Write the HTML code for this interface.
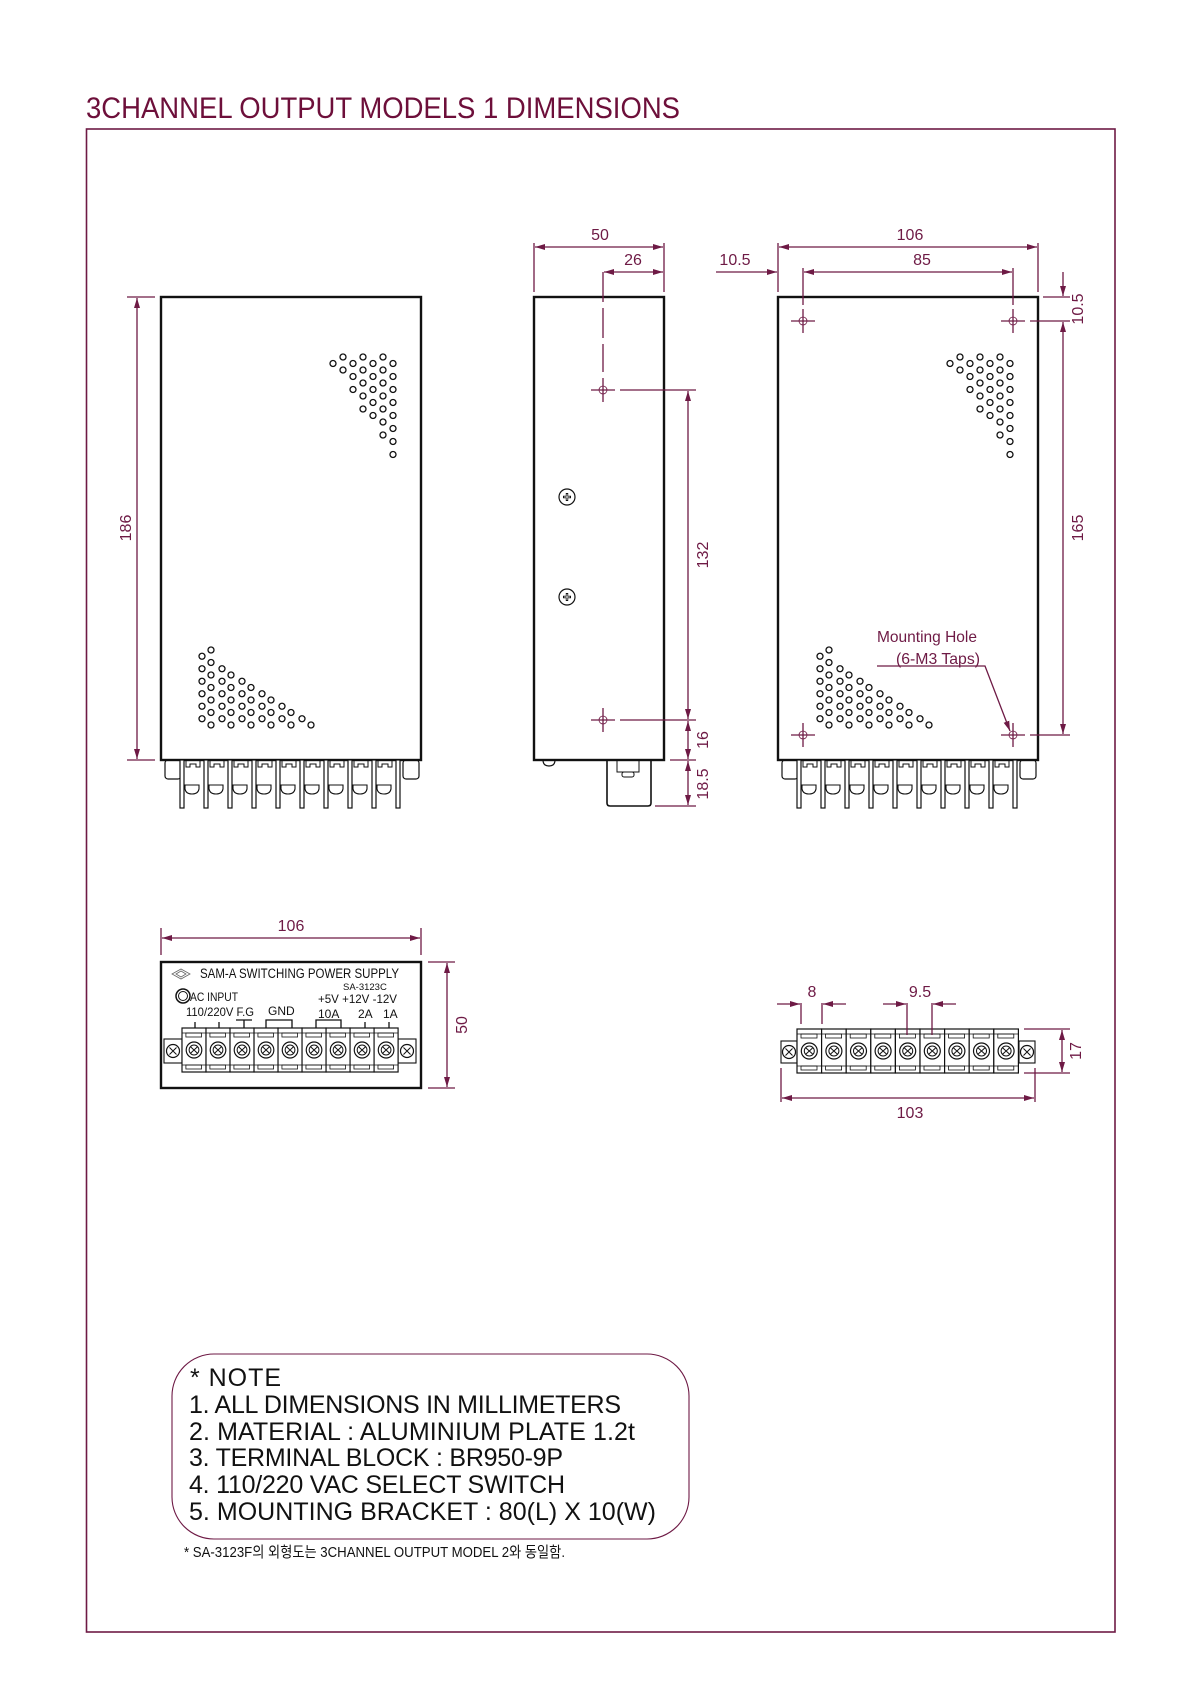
<!DOCTYPE html>
<html><head><meta charset="utf-8"><style>
html,body{margin:0;padding:0;background:#fff;}
svg{display:block;}
text{font-family:"Liberation Sans","Noto Sans CJK KR",sans-serif;}
.d{fill:#6e1a45;font-size:16px;}
.dl{stroke:#6e1a45;stroke-width:1.3;fill:none;}
.k{stroke:#111;fill:none;}
</style></head><body>
<svg id="s" width="1200" height="1698" viewBox="0 0 1200 1698" xmlns="http://www.w3.org/2000/svg">
<defs>
<marker id="ar" viewBox="0 0 10 6" refX="10" refY="3" markerWidth="10" markerHeight="6" orient="auto-start-reverse" markerUnits="userSpaceOnUse">
<path d="M0,0 L10,3 L0,6 z" fill="#6e1a45"/></marker>
<g id="xh"><line x1="-12" y1="0" x2="12" y2="0" stroke="#6e1a45" stroke-width="1.3"/><line x1="0" y1="-12" x2="0" y2="12" stroke="#6e1a45" stroke-width="1.3"/><circle r="4" fill="none" stroke="#6e1a45" stroke-width="0.8"/></g>
<g id="stub">
<rect x="0" y="0" width="4" height="48" fill="#fff" stroke="#111" stroke-width="1.2"/>
<path d="M6,0 V7 H10 V4 H16 V7 H20 V0" fill="none" stroke="#111" stroke-width="1"/>
<path d="M5,25 H19 V29 Q18,34 12,34 Q6,34 5,29 Z" fill="none" stroke="#111" stroke-width="1.1"/>
</g>
<g id="cell">
<rect x="0" y="0" width="24.6" height="44" fill="#fff" stroke="#111" stroke-width="1.2"/>
<line x1="0" y1="5" x2="24.6" y2="5" stroke="#111" stroke-width="0.8"/>
<rect x="4" y="5" width="16" height="4" fill="none" stroke="#111" stroke-width="0.8"/>
<line x1="0" y1="37" x2="24.6" y2="37" stroke="#111" stroke-width="0.8"/>
<rect x="4" y="37" width="16" height="4" fill="none" stroke="#111" stroke-width="0.8"/>
<circle cx="12.3" cy="22" r="8" fill="none" stroke="#111" stroke-width="1.2"/>
<circle cx="12.3" cy="22" r="5" fill="none" stroke="#111" stroke-width="1"/>
<path d="M9,19 L15.6,25 M15.6,19 L9,25" stroke="#111" stroke-width="1"/>
</g>
<g id="screw"><circle r="6.5" fill="none" stroke="#111" stroke-width="1.2"/><path d="M-3.5,-3.5 L3.5,3.5 M3.5,-3.5 L-3.5,3.5" stroke="#111" stroke-width="1"/></g>
<g id="pscrew"><circle r="8" fill="none" stroke="#111" stroke-width="1.2"/><path d="M-4,0 H4 M0,-4 V4" stroke="#111" stroke-width="2.4"/><path d="M-3,0 H3 M0,-3 V3" stroke="#fff" stroke-width="0.8"/></g>
</defs>

<text x="86" y="118" font-size="30" fill="#6d0f3a" textLength="594" lengthAdjust="spacingAndGlyphs">3CHANNEL  OUTPUT  MODELS  1  DIMENSIONS</text>
<rect x="86.5" y="129" width="1028.5" height="1503" fill="none" stroke="#6e1a45" stroke-width="1.6"/>

<g id="dots" fill="none" stroke="#111" stroke-width="1.3"></g>

<!-- FRONT VIEW -->
<rect x="161" y="297" width="260" height="463" fill="none" stroke="#111" stroke-width="2.4"/>
<rect x="165" y="760" width="16" height="19" rx="3" class="k" stroke-width="1.2"/>
<rect x="403" y="760" width="16" height="19" rx="3" class="k" stroke-width="1.2"/>
<g>
<use href="#stub" x="180" y="760"/><use href="#stub" x="204" y="760"/><use href="#stub" x="228" y="760"/><use href="#stub" x="252" y="760"/><use href="#stub" x="276" y="760"/><use href="#stub" x="300" y="760"/><use href="#stub" x="324" y="760"/><use href="#stub" x="348" y="760"/><use href="#stub" x="372" y="760"/>
<rect x="396" y="760" width="4" height="48" fill="#fff" stroke="#111" stroke-width="1.2"/>
</g>
<line x1="127" y1="297" x2="155" y2="297" class="dl"/>
<line x1="127" y1="760" x2="155" y2="760" class="dl"/>
<line x1="137" y1="298" x2="137" y2="759" class="dl" marker-start="url(#ar)" marker-end="url(#ar)"/>
<text class="d" transform="translate(131,528) rotate(-90)" text-anchor="middle">186</text>

<!-- SIDE VIEW -->
<rect x="534" y="297" width="130" height="463" fill="none" stroke="#111" stroke-width="2.4"/>
<path d="M543,760 Q543,766 549,766 Q555,766 555,760" class="k" stroke-width="1.2"/>
<path d="M607,760 V803 Q607,806 610,806 H648 Q651,806 651,803 V760" class="k" stroke-width="1.6"/>
<rect x="617" y="760" width="22" height="12" class="k" stroke-width="1"/>
<rect x="622" y="772" width="12" height="5" rx="2" class="k" stroke-width="1"/>
<use href="#pscrew" x="567" y="497"/>
<use href="#pscrew" x="567" y="597"/>
<use href="#xh" x="603" y="390"/>
<use href="#xh" x="603" y="720"/>
<line x1="603" y1="272" x2="603" y2="372" class="dl" stroke-dasharray="30,6"/>
<line x1="534" y1="243" x2="534" y2="292" class="dl"/>
<line x1="664" y1="243" x2="664" y2="292" class="dl"/>
<line x1="535" y1="247" x2="663" y2="247" class="dl" marker-start="url(#ar)" marker-end="url(#ar)"/>
<text class="d" x="600" y="240" text-anchor="middle">50</text>
<line x1="604" y1="272" x2="663" y2="272" class="dl" marker-start="url(#ar)" marker-end="url(#ar)"/>
<text class="d" x="633" y="265" text-anchor="middle">26</text>
<line x1="620" y1="390" x2="696" y2="390" class="dl"/>
<line x1="620" y1="720" x2="696" y2="720" class="dl"/>
<line x1="670" y1="760" x2="696" y2="760" class="dl"/>
<line x1="655" y1="806" x2="696" y2="806" class="dl"/>
<line x1="688" y1="391" x2="688" y2="719" class="dl" marker-start="url(#ar)" marker-end="url(#ar)"/>
<line x1="688" y1="721" x2="688" y2="759" class="dl" marker-start="url(#ar)" marker-end="url(#ar)"/>
<line x1="688" y1="761" x2="688" y2="805" class="dl" marker-start="url(#ar)" marker-end="url(#ar)"/>
<text class="d" transform="translate(708,555) rotate(-90)" text-anchor="middle">132</text>
<text class="d" transform="translate(708,740) rotate(-90)" text-anchor="middle">16</text>
<text class="d" transform="translate(708,784) rotate(-90)" text-anchor="middle">18.5</text>

<!-- RIGHT VIEW -->
<rect x="778" y="297" width="260" height="463" fill="none" stroke="#111" stroke-width="2.4"/>
<rect x="782" y="760" width="16" height="19" rx="3" class="k" stroke-width="1.2"/>
<rect x="1020" y="760" width="16" height="19" rx="3" class="k" stroke-width="1.2"/>
<g>
<use href="#stub" x="797" y="760"/><use href="#stub" x="821" y="760"/><use href="#stub" x="845" y="760"/><use href="#stub" x="869" y="760"/><use href="#stub" x="893" y="760"/><use href="#stub" x="917" y="760"/><use href="#stub" x="941" y="760"/><use href="#stub" x="965" y="760"/><use href="#stub" x="989" y="760"/>
<rect x="1013" y="760" width="4" height="48" fill="#fff" stroke="#111" stroke-width="1.2"/>
</g>
<use href="#xh" x="803" y="321"/>
<use href="#xh" x="1013" y="321"/>
<use href="#xh" x="803" y="735"/>
<use href="#xh" x="1013" y="735"/>
<line x1="778" y1="243" x2="778" y2="292" class="dl"/>
<line x1="1038" y1="243" x2="1038" y2="292" class="dl"/>
<line x1="803" y1="268" x2="803" y2="305" class="dl"/>
<line x1="1013" y1="268" x2="1013" y2="305" class="dl"/>
<line x1="779" y1="247" x2="1037" y2="247" class="dl" marker-start="url(#ar)" marker-end="url(#ar)"/>
<text class="d" x="910" y="240" text-anchor="middle">106</text>
<line x1="804" y1="272" x2="1012" y2="272" class="dl" marker-start="url(#ar)" marker-end="url(#ar)"/>
<text class="d" x="922" y="265" text-anchor="middle">85</text>
<line x1="716" y1="272" x2="777" y2="272" class="dl" marker-end="url(#ar)"/>
<text class="d" x="735" y="265" text-anchor="middle">10.5</text>
<line x1="1043" y1="297" x2="1070" y2="297" class="dl"/>
<line x1="1030" y1="321" x2="1070" y2="321" class="dl"/>
<line x1="1030" y1="735" x2="1070" y2="735" class="dl"/>
<line x1="1063" y1="272" x2="1063" y2="296" class="dl" marker-end="url(#ar)"/>
<line x1="1063" y1="322" x2="1063" y2="734" class="dl" marker-start="url(#ar)" marker-end="url(#ar)"/>
<text class="d" transform="translate(1083,309) rotate(-90)" text-anchor="middle">10.5</text>
<text class="d" transform="translate(1083,528) rotate(-90)" text-anchor="middle">165</text>
<text class="d" x="877" y="642" textLength="100" lengthAdjust="spacingAndGlyphs">Mounting Hole</text>
<text class="d" x="896" y="664" textLength="84" lengthAdjust="spacingAndGlyphs">(6-M3 Taps)</text>
<polyline points="877,666 985,666 1010,731" class="dl" marker-end="url(#ar)"/>

<!-- PANEL VIEW -->
<rect x="161" y="962" width="260" height="126" fill="none" stroke="#111" stroke-width="2.4"/>
<line x1="161" y1="928" x2="161" y2="955" class="dl"/>
<line x1="421" y1="928" x2="421" y2="955" class="dl"/>
<line x1="162" y1="938" x2="420" y2="938" class="dl" marker-start="url(#ar)" marker-end="url(#ar)"/>
<text class="d" x="291" y="931" text-anchor="middle">106</text>
<line x1="428" y1="962" x2="455" y2="962" class="dl"/>
<line x1="428" y1="1088" x2="455" y2="1088" class="dl"/>
<line x1="447" y1="963" x2="447" y2="1087" class="dl" marker-start="url(#ar)" marker-end="url(#ar)"/>
<text class="d" transform="translate(467,1025) rotate(-90)" text-anchor="middle">50</text>
<path d="M172,974 L181,969 L190,974 L181,979 Z M176,974 L181,971 L186,974 L181,977 Z" fill="none" stroke="#666" stroke-width="0.8"/>
<text x="200" y="978" font-size="13.5" fill="#111" textLength="199" lengthAdjust="spacingAndGlyphs">SAM-A SWITCHING POWER SUPPLY</text>
<text x="343" y="990" font-size="9.5" fill="#111">SA-3123C</text>
<circle cx="183" cy="996" r="7" fill="none" stroke="#111" stroke-width="1.5"/>
<circle cx="183" cy="996" r="4.5" fill="none" stroke="#111" stroke-width="1"/>
<text x="190" y="1001" font-size="12" fill="#111" textLength="48" lengthAdjust="spacingAndGlyphs">AC INPUT</text>
<text x="318" y="1003" font-size="12" fill="#111" textLength="79" lengthAdjust="spacingAndGlyphs">+5V  +12V -12V</text>
<text x="186" y="1016" font-size="12" fill="#111" textLength="68" lengthAdjust="spacingAndGlyphs">110/220V F.G</text>
<text x="268" y="1015" font-size="12" fill="#111">GND</text>
<text x="318" y="1018" font-size="12" fill="#111">10A</text>
<text x="358" y="1018" font-size="12" fill="#111">2A</text>
<text x="383" y="1018" font-size="12" fill="#111">1A</text>
<g stroke="#111" stroke-width="1.3" fill="none">
<path d="M195,1022 V1028 M219,1022 V1028 M236,1020 H252 M244,1020 V1028 M266,1028 V1020 H292 V1028 M316,1028 V1020 H341 V1028 M365,1022 V1028 M389,1022 V1028"/>
</g>
<rect x="164" y="1039" width="18" height="24" class="k" stroke-width="1.1"/>
<rect x="398" y="1039" width="18" height="24" class="k" stroke-width="1.1"/>
<use href="#screw" x="173" y="1051"/>
<use href="#screw" x="407" y="1051"/>
<g transform="translate(182,1028) scale(0.976,1)">
<use href="#cell" x="0" y="0"/><use href="#cell" x="24.6" y="0"/><use href="#cell" x="49.2" y="0"/><use href="#cell" x="73.8" y="0"/><use href="#cell" x="98.4" y="0"/><use href="#cell" x="123" y="0"/><use href="#cell" x="147.6" y="0"/><use href="#cell" x="172.2" y="0"/><use href="#cell" x="196.8" y="0"/>
</g>

<!-- TERMINAL BLOCK -->
<rect x="781" y="1041" width="16" height="22" class="k" stroke-width="1.1"/>
<rect x="1019" y="1041" width="16" height="22" class="k" stroke-width="1.1"/>
<use href="#screw" x="789" y="1052"/>
<use href="#screw" x="1027" y="1052"/>
<g transform="translate(797,1029)">
<use href="#cell" x="0" y="0"/><use href="#cell" x="24.6" y="0"/><use href="#cell" x="49.2" y="0"/><use href="#cell" x="73.8" y="0"/><use href="#cell" x="98.4" y="0"/><use href="#cell" x="123" y="0"/><use href="#cell" x="147.6" y="0"/><use href="#cell" x="172.2" y="0"/><use href="#cell" x="196.8" y="0"/>
</g>
<line x1="801" y1="1003" x2="801" y2="1024" class="dl"/>
<line x1="822" y1="1003" x2="822" y2="1024" class="dl"/>
<line x1="777" y1="1004" x2="800" y2="1004" class="dl" marker-end="url(#ar)"/>
<line x1="846" y1="1004" x2="823" y2="1004" class="dl" marker-end="url(#ar)"/>
<text class="d" x="812" y="997" text-anchor="middle">8</text>
<line x1="907" y1="1003" x2="907" y2="1035" class="dl"/>
<line x1="932" y1="1003" x2="932" y2="1035" class="dl"/>
<line x1="883" y1="1004" x2="906" y2="1004" class="dl" marker-end="url(#ar)"/>
<line x1="956" y1="1004" x2="933" y2="1004" class="dl" marker-end="url(#ar)"/>
<text class="d" x="920" y="997" text-anchor="middle">9.5</text>
<line x1="781" y1="1068" x2="781" y2="1102" class="dl"/>
<line x1="1035" y1="1068" x2="1035" y2="1102" class="dl"/>
<line x1="782" y1="1098" x2="1034" y2="1098" class="dl" marker-start="url(#ar)" marker-end="url(#ar)"/>
<text class="d" x="910" y="1118" text-anchor="middle">103</text>
<line x1="1024" y1="1029" x2="1070" y2="1029" class="dl"/>
<line x1="1024" y1="1073" x2="1070" y2="1073" class="dl"/>
<line x1="1062" y1="1030" x2="1062" y2="1072" class="dl" marker-start="url(#ar)" marker-end="url(#ar)"/>
<text class="d" transform="translate(1081,1051) rotate(-90)" text-anchor="middle">17</text>

<!-- NOTE -->
<rect x="172" y="1354" width="517" height="185" rx="42" ry="42" fill="none" stroke="#6e1a45" stroke-width="1.1"/>
<g fill="#111" font-size="25">
<text x="190" y="1386" textLength="91" lengthAdjust="spacing">*  NOTE</text>
<text x="189" y="1413" textLength="432" lengthAdjust="spacing">1.  ALL  DIMENSIONS  IN  MILLIMETERS</text>
<text x="189" y="1440" textLength="446" lengthAdjust="spacing">2.  MATERIAL  :  ALUMINIUM  PLATE  1.2t</text>
<text x="189" y="1466" textLength="374" lengthAdjust="spacing">3.  TERMINAL  BLOCK  :  BR950-9P</text>
<text x="189" y="1493" textLength="376" lengthAdjust="spacing">4.  110/220  VAC  SELECT  SWITCH</text>
<text x="189" y="1520" textLength="467" lengthAdjust="spacing">5.  MOUNTING  BRACKET  :  80(L)  X  10(W)</text>
</g>
<text x="184" y="1557" font-size="15" fill="#111" textLength="381" lengthAdjust="spacingAndGlyphs">*   SA-3123F의 외형도는 3CHANNEL OUTPUT MODEL 2와 동일함.</text>
</svg>
<script>
(function(){
var g=document.getElementById('dots'),NS='http://www.w3.org/2000/svg';
function c(x,y){var e=document.createElementNS(NS,'circle');e.setAttribute('cx',x);e.setAttribute('cy',y);e.setAttribute('r',3);g.appendChild(e);}
function upper(ox,oy){ // ox = left ref (330)
  for(var i=0;i<16;i++){var y=oy+6.5*i;var R=(i%2)?ox+63:ox+53;var L=ox-3+i*4.2;
    for(var x=R;x>=L;x-=20)c(x,y);}
}
function lower(ox,oy){ // ox = 197
  for(var i=0;i<13;i++){var y=oy+6.25*i;var s=(i%2)?ox+5:ox+14;var R=ox+14+i*8.4;
    for(var x=s;x<=R+0.5;x+=20)c(x,y);}
}
upper(330,357);lower(197,650);upper(947,357);lower(815,650);
})();
</script>
</body></html>
